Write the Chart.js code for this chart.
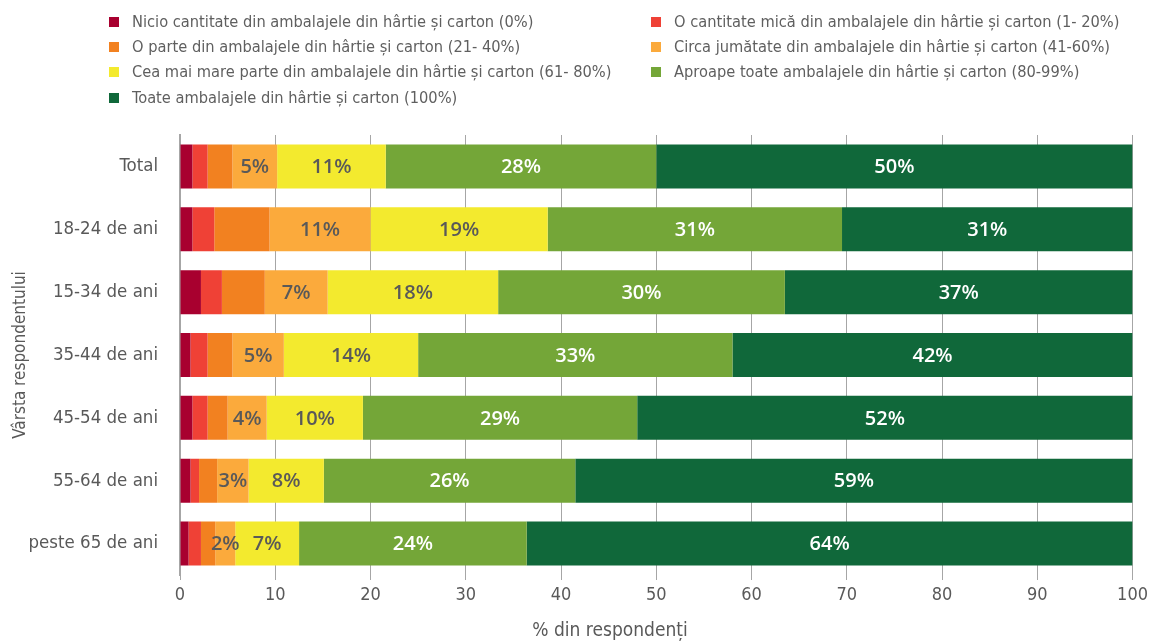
<!DOCTYPE html>
<html>
<head>
<meta charset="utf-8">
<script src="https://cdn.jsdelivr.net/npm/chart.js@4.4.1/dist/chart.umd.min.js"></script>
<style>
  html, body { margin: 0; padding: 0; background: #ffffff; }
  #wrap { position: relative; width: 1153px; height: 641px; }
  #c { position: absolute; left: 0; top: 0; }
  #legend { position: absolute; left: 0; top: 0; width: 1153px; height: 120px;
    font-family: "Liberation Sans Narrow", "DejaVu Sans Condensed", sans-serif; font-size: 16.3px; color: #5f5f5f; }
  .li { position: absolute; white-space: nowrap; line-height: 20px; }
  .sw { display: inline-block; width: 10px; height: 10px; vertical-align: middle; margin-right: 13px; position: relative; top: -1px; }
</style>
</head>
<body>
<div id="wrap">
  <canvas id="c" width="1153" height="641"></canvas>
  <div id="legend"></div>
</div>
<script>
const categories = ["Total", "18-24 de ani", "15-34 de ani", "35-44 de ani", "45-54 de ani", "55-64 de ani", "peste 65 de ani"];
const seriesNames = [
  "Nicio cantitate din ambalajele din hârtie și carton (0%)",
  "O cantitate mică din ambalajele din hârtie și carton (1- 20%)",
  "O parte din ambalajele din hârtie și carton (21- 40%)",
  "Circa jumătate din ambalajele din hârtie și carton (41-60%)",
  "Cea mai mare parte din ambalajele din hârtie și carton (61- 80%)",
  "Aproape toate ambalajele din hârtie și carton (80-99%)",
  "Toate ambalajele din hârtie și carton (100%)"
];
const nicio      = [1.3, 1.3, 2.2, 1.1, 1.3, 1.1, 0.9];
const putin      = [1.6, 2.3, 2.2, 1.8, 1.6, 0.9, 1.3];
const oParte     = [2.6, 5.8, 4.5, 2.6, 2.1, 1.9, 1.5];
const jumatate   = [4.7, 10.6, 6.6, 5.4, 4.1, 3.3, 2.1];
const maiMare    = [11.4, 18.6, 17.9, 14.1, 10.1, 7.9, 6.7];
const aproape    = [28.4, 30.9, 30.1, 33.0, 28.8, 26.4, 23.9];
const toate      = [50.0, 30.5, 36.5, 42.0, 52.0, 58.5, 63.6];
const xTicks = [0, 10, 20, 30, 40, 50, 60, 70, 80, 90, 100];

const colors = ["#A8002F", "#EF4136", "#F28120", "#FBAA3C", "#F3EA2E", "#74A638", "#10683A"];
const labelColors = [null, null, null, "#595959", "#595959", "#ffffff", "#ffffff"];
const seriesValues = [nicio, putin, oParte, jumatate, maiMare, aproape, toate];

// HTML legend (two columns)
const legendEl = document.getElementById('legend');
const legendPos = [
  [109, 12], [651, 12],
  [109, 37], [651, 37],
  [109, 62], [651, 62],
  [109, 88]
];
seriesNames.forEach((n, i) => {
  const d = document.createElement('div');
  d.className = 'li';
  d.style.left = legendPos[i][0] + 'px';
  d.style.top = legendPos[i][1] + 'px';
  d.innerHTML = '<span class="sw" style="background:' + colors[i] + '"></span>' + n;
  legendEl.appendChild(d);
});

const FONT = '"Liberation Sans Narrow", "DejaVu Sans Condensed", sans-serif';

const labelPlugin = {
  id: 'segLabels',
  afterDatasetsDraw(chart) {
    const ctx = chart.ctx;
    ctx.save();
    ctx.font = '600 20px "Open Sans", "DejaVu Sans", sans-serif';
    ctx.textAlign = 'center';
    ctx.textBaseline = 'middle';
    chart.data.datasets.forEach((ds, di) => {
      if (!labelColors[di]) return;
      const meta = chart.getDatasetMeta(di);
      meta.data.forEach((el, i) => {
        const v = ds.data[i];
        const cx = (el.x + el.base) / 2;
        ctx.fillStyle = labelColors[di];
        ctx.fillText(Math.round(v) + '%', cx, el.y + 1);
      });
    });
    ctx.restore();
  }
};

const xTitlePlugin = {
  id: 'xTitle',
  afterDraw(chart) {
    const ctx = chart.ctx;
    ctx.save();
    ctx.font = '19px ' + FONT;
    ctx.fillStyle = '#595959';
    ctx.textAlign = 'center';
    ctx.textBaseline = 'middle';
    ctx.fillText('% din respondenți', 610, 631);
    ctx.restore();
  }
};

new Chart(document.getElementById('c'), {
  type: 'bar',
  data: {
    labels: categories,
    datasets: seriesValues.map((vals, i) => ({
      label: seriesNames[i],
      data: vals,
      backgroundColor: colors[i],
      borderWidth: 0,
      barPercentage: 0.7,
      categoryPercentage: 1.0
    }))
  },
  options: {
    indexAxis: 'y',
    responsive: false,
    animation: false,
    layout: { padding: { top: 135, right: 17, left: 0, bottom: 0 } },
    plugins: {
      legend: { display: false },
      tooltip: { enabled: false }
    },
    scales: {
      x: {
        stacked: true,
        min: 0, max: 100,
        afterBuildTicks(scale) { scale.ticks = xTicks.map(v => ({ value: v })); },
        afterFit(scale) { scale.height = 66; },
        grid: { color: '#a6a6a6', lineWidth: 1, drawTicks: true, tickLength: 5, tickColor: '#a6a6a6' },
        border: { display: false },
        ticks: { color: '#595959', padding: 5, font: { family: FONT, size: 18 } }
      },
      y: {
        stacked: true,
        afterFit(scale) { scale.width = 180; },
        grid: { display: false, drawTicks: false },
        border: { display: true, color: '#a6a6a6', width: 2 },
        ticks: { color: '#595959', padding: 22, font: { family: FONT, size: 18.5 } },
        title: { display: true, text: 'Vârsta respondentului', color: '#595959', padding: { top: 10, bottom: 0 }, font: { family: FONT, size: 17 } }
      }
    }
  },
  plugins: [labelPlugin, xTitlePlugin]
});
</script>
</body>
</html>
